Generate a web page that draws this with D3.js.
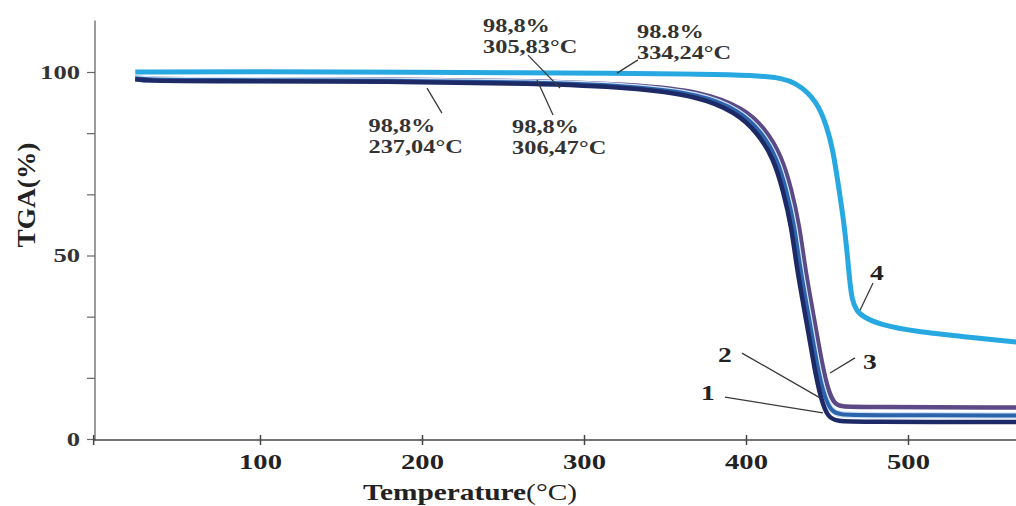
<html>
<head>
<script src="https://d3js.org/d3.v7.min.js"></script>
<style>
body { margin: 0; background: #fff; }
text { font-family: "Liberation Serif", "Times New Roman", serif; }
</style>
</head>
<body>
<script>
// tick values / labels
var xTicks = [-3, 100, 200, 300, 400, 500];
var yTicks = [0, 100 / 6, 200 / 6, 50, 400 / 6, 500 / 6, 100];

// curves: [temperature C, TGA %]
var curve1 = [[23, 98.0], [30, 97.6], [60, 97.5], [186, 97.4], [268, 96.9], [330, 95.8], [370, 93.5], [394, 89.0],
    [407, 83.5], [417, 76.5], [423, 67.5], [428, 58], [431.5, 46], [437.5, 31.6], [442.5, 18.5], [446.5, 10.5],
    [450.5, 6.0], [456, 4.8], [470, 4.7], [567, 4.6]];
var curve2 = [[23, 98.3], [30, 97.9], [60, 97.8], [186, 97.7], [268, 97.2], [330, 96.2], [372, 94.0], [396, 89.5],
    [409, 84.0], [419, 76.8], [425, 67.8], [430, 58], [433.5, 46], [439.5, 31.6], [444.5, 18.5], [448.5, 11.5],
    [452.5, 7.6], [458, 6.6], [470, 6.5], [567, 6.4]];
var curve3 = [[23, 98.5], [30, 98.1], [60, 98.0], [186, 98.0], [268, 97.6], [330, 96.6], [374, 94.6], [399, 90.0],
    [412, 84.5], [422, 77.0], [428, 68], [433, 58], [436.5, 46], [442.5, 31.6], [447.5, 19.0], [451, 13.0],
    [454.5, 9.6], [459, 8.8], [470, 8.7], [567, 8.6]];
var curve4 = [[23, 100.0], [100, 100.1], [186, 99.9], [322, 99.7], [415, 99.3], [431, 97.3], [444, 92.0], [450, 85.0],
    [453.7, 78.7], [456.8, 69.8], [460, 60.5], [462.3, 51.5], [463.8, 44], [465.5, 37.5], [468.5, 34.8], [472, 33.4],
    [482.7, 31.1], [505.6, 29.2], [536.4, 27.8], [567, 26.4]];

// curve numbers and their leader lines (data units)
var numLabels = ["1", "2", "3", "4"];
var numPos = [[372.2, 10.6], [382.7, 21.0], [472.2, 19.1], [476.5, 43.3]];
var numLeaders = [[[387, 11.4], [447.5, 7.1]], [[397.5, 23.4], [445.7, 11.2]],
    [[467.3, 22.1], [451.9, 18.0]], [[478.4, 42.5], [470.4, 35.1]]];

// onset notes
var noteTexts = [["98,8%", "237,04°C"], ["98,8%", "305,83°C"], ["98,8%", "306,47°C"], ["98.8%", "334,24°C"]];
var notePos = [[167, 83.6], [237.7, 110.9], [255.6, 83.4], [332.7, 109.3]];
var noteLeaders = [[[203.1, 95.6], [212.3, 88.8]], [[265.4, 104.6], [285.2, 95.6]],
    [[271, 97.8], [280.9, 88.3]], [[333.3, 103.3], [320.4, 99.7]]];

var width = 1016;
var height = 506;

var xScale = d3.scaleLinear()
    .domain([0, 500])
    .range([98, 908]);
var yScale = d3.scaleLinear()
    .domain([0, 100])
    .range([439, 72]);

var svg = d3.select("body")
    .append("svg")
    .attr("width", width)
    .attr("height", height);

// widen glyphs a bit, the source picture is stretched sideways
var stretch = function(sel, k) {
    sel.each(function() {
        var w = this.getComputedTextLength();
        d3.select(this)
            .attr("textLength", w * k)
            .attr("lengthAdjust", "spacingAndGlyphs");
    });
}

// y axis
var yAxis = svg.append("g")
    .attr("transform", "translate(95,0)")
    .call(d3.axisLeft(yScale)
        .tickValues(yTicks)
        .tickSize(8)
        .tickPadding(7)
        .tickFormat(function(d) { return (d === 0 || d === 50 || d === 100) ? d : ""; }));
yAxis.select(".domain").remove();
yAxis.selectAll(".tick line").attr("stroke", "#666").attr("stroke-width", 1.2);
yAxis.selectAll("text")
    .attr("font-size", 19)
    .attr("font-weight", "bold")
    .attr("fill", "#333");
stretch(yAxis.selectAll("text"), 1.4);
yAxis.append("line")
    .attr("x1", 0).attr("x2", 0)
    .attr("y1", yScale(114)).attr("y2", yScale(0) + 1)
    .attr("stroke", "#666")
    .attr("stroke-width", 1.3);

// x axis
var xAxis = svg.append("g")
    .attr("transform", "translate(0," + (yScale(0) + 1) + ")")
    .call(d3.axisBottom(xScale)
        .tickValues(xTicks)
        .tickSize(5)
        .tickPadding(8.5)
        .tickFormat(function(d) { return d > 0 ? d : ""; }));
xAxis.select(".domain").remove();
xAxis.selectAll(".tick line")
    .attr("y1", -5)
    .attr("stroke", "#444")
    .attr("stroke-width", 1.5);
xAxis.selectAll("text")
    .attr("font-size", 22)
    .attr("font-weight", "bold")
    .attr("fill", "#222");
stretch(xAxis.selectAll("text"), 1.3);
xAxis.append("line")
    .attr("x1", xScale(-3)).attr("x2", width)
    .attr("stroke", "#444")
    .attr("stroke-width", 1.6);

// curves
var line = d3.line()
    .x(function(d) { return xScale(d[0]); })
    .y(function(d) { return yScale(d[1]); })
    .curve(d3.curveBasis);

var plot = svg.append("g").attr("fill", "none");
plot.append("path").datum(curve3).attr("d", line)
    .attr("stroke", "#5b4a85").attr("stroke-width", 4.5);
plot.append("path").datum(curve2).attr("d", line)
    .attr("stroke", "#cfe2f4").attr("stroke-width", 6.5);
plot.append("path").datum(curve2).attr("d", line)
    .attr("stroke", "#2c63ad").attr("stroke-width", 4);
plot.append("path").datum(curve1).attr("d", line)
    .attr("stroke", "#1d2a66").attr("stroke-width", 4.5);
plot.append("path").datum(curve4).attr("d", line)
    .attr("stroke", "#27a8e0").attr("stroke-width", 5);

// leader lines
var leaders = svg.append("g")
    .attr("stroke", "#3a3a3a")
    .attr("stroke-width", 1.3);
leaders.selectAll("line.num")
    .data(numLeaders)
    .enter()
    .append("line")
    .attr("x1", function(d) { return xScale(d[0][0]); })
    .attr("y1", function(d) { return yScale(d[0][1]); })
    .attr("x2", function(d) { return xScale(d[1][0]); })
    .attr("y2", function(d) { return yScale(d[1][1]); });
leaders.selectAll("line.note")
    .data(noteLeaders)
    .enter()
    .append("line")
    .attr("x1", function(d) { return xScale(d[0][0]); })
    .attr("y1", function(d) { return yScale(d[0][1]); })
    .attr("x2", function(d) { return xScale(d[1][0]); })
    .attr("y2", function(d) { return yScale(d[1][1]); });

// curve numbers
var nums = svg.append("g")
    .selectAll("text")
    .data(numLabels)
    .enter()
    .append("text")
    .attr("x", function(d, i) { return xScale(numPos[i][0]); })
    .attr("y", function(d, i) { return yScale(numPos[i][1]); })
    .attr("font-size", 22)
    .attr("font-weight", "bold")
    .attr("fill", "#222")
    .text(function(d) { return d; });
stretch(nums, 1.25);

// onset notes
var notes = svg.append("g")
    .selectAll("text")
    .data(noteTexts)
    .enter()
    .append("text")
    .attr("font-size", 19)
    .attr("font-weight", "bold")
    .attr("fill", "#333");
notes.each(function(d, i) {
    var t = d3.select(this);
    t.append("tspan")
        .attr("x", xScale(notePos[i][0]))
        .attr("y", yScale(notePos[i][1]))
        .text(d[0]);
    t.append("tspan")
        .attr("x", xScale(notePos[i][0]))
        .attr("y", yScale(notePos[i][1]) + 21)
        .text(d[1]);
});
notes.selectAll("tspan").each(function() {
    var w = this.getComputedTextLength();
    d3.select(this).attr("textLength", w * 1.28).attr("lengthAdjust", "spacingAndGlyphs");
});

// axis titles
svg.append("text")
    .attr("transform", "translate(35,195) rotate(-90)")
    .attr("text-anchor", "middle")
    .attr("font-size", 25)
    .attr("font-weight", "bold")
    .attr("fill", "#222")
    .attr("textLength", 105)
    .attr("lengthAdjust", "spacingAndGlyphs")
    .text("TGA(%)");

var xt = svg.append("text")
    .attr("x", 363)
    .attr("y", 500)
    .attr("font-size", 24)
    .attr("fill", "#222")
    .attr("textLength", 214)
    .attr("lengthAdjust", "spacingAndGlyphs");
xt.append("tspan").attr("font-weight", "bold").text("Temperature");
xt.append("tspan").text("(°C)");
</script>
</body>
</html>
